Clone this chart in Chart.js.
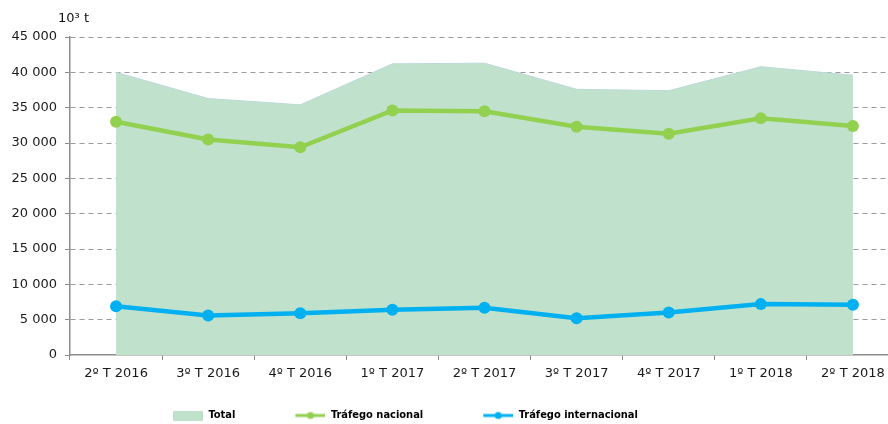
<!DOCTYPE html>
<html>
<head>
<meta charset="utf-8">
<script src="https://cdn.jsdelivr.net/npm/chart.js@4.4.1/dist/chart.umd.min.js"></script>
<style>
    body { margin: 0; overflow: hidden; background: #fff; }
    #wrap { width: 905px; height: 424px; }
</style>
</head>
<body>
<div id="wrap"><canvas id="freightChart"></canvas></div>
<script>
const quarters = ['2º T 2016', '3º T 2016', '4º T 2016', '1º T 2017', '2º T 2017', '3º T 2017', '4º T 2017', '1º T 2018', '2º T 2018'];
const totalValues = [40000, 36300, 35400, 41200, 41300, 37600, 37400, 40800, 39600];
const nationalValues = [33000, 30500, 29400, 34600, 34500, 32300, 31300, 33500, 32400];
const internationalValues = [6900, 5600, 5900, 6400, 6700, 5200, 6000, 7200, 7100];
const Y_MAX = 45000;
const Y_STEP = 5000;

const TOTAL_COLOR = '#C0E2CC';
const NATIONAL_COLOR = '#92D050';
const INTERNATIONAL_COLOR = '#00B0F0';
const AXIS_COLOR = '#8c8c8c';
const TICK_FONT = {family: '"DejaVu Sans", sans-serif', size: 13};

// legend symbols: transparent lead-in gives the wide gaps between items
const LEAD = 50;
function legendSymbol(kind, color) {
    const c = document.createElement('canvas');
    c.width = LEAD + 30;
    c.height = 10;
    const ctx = c.getContext('2d');
    ctx.fillStyle = color;
    if (kind === 'box') {
        ctx.fillRect(LEAD, 0, 30, 10);
    } else {
        ctx.strokeStyle = color;
        ctx.lineWidth = 3;
        ctx.beginPath();
        ctx.moveTo(LEAD, 5);
        ctx.lineTo(LEAD + 30, 5);
        ctx.stroke();
        ctx.beginPath();
        ctx.arc(LEAD + 15, 5, 3.5, 0, Math.PI * 2);
        ctx.fill();
    }
    return c;
}

function spaced(v) {
    return String(v).replace(/\B(?=(\d{3})+(?!\d))/g, ' ');
}

const unitLabel = {
    id: 'unitLabel',
    afterDraw(chart) {
        const {ctx, chartArea} = chart;
        ctx.save();
        ctx.font = '13px "DejaVu Sans"';
        ctx.fillStyle = '#111';
        ctx.textBaseline = 'middle';
        ctx.fillText('10³ t', chartArea.left - 12, chartArea.top - 18);
        ctx.restore();
    }
};

// legend sits lower and further left than chart.js would put it
const legendPlace = {
    id: 'legendPlace',
    beforeInit(chart) {
        const fitValue = chart.legend.fit;
        chart.legend.fit = function fit() {
            fitValue.bind(chart.legend)();
            return this.height -= 7;
        };
    },
    afterLayout(chart) {
        const lg = chart.legend;
        lg.left = 113;
        lg.right = lg.left + lg.width;
    }
};

const data = {
    labels: quarters,
    datasets: [
        {
            label: 'Total',
            data: totalValues,
            fill: 'origin',
            backgroundColor: TOTAL_COLOR,
            borderColor: '#bcd8da',
            borderWidth: 1,
            pointRadius: 0,
            pointHoverRadius: 0,
            tension: 0,
            order: 3,
        },
        {
            label: 'Tráfego nacional',
            data: nationalValues,
            borderColor: NATIONAL_COLOR,
            backgroundColor: NATIONAL_COLOR,
            borderWidth: 4.5,
            pointRadius: 6,
            pointHoverRadius: 6,
            pointBorderWidth: 0,
            tension: 0,
            order: 2,
        },
        {
            label: 'Tráfego internacional',
            data: internationalValues,
            borderColor: INTERNATIONAL_COLOR,
            backgroundColor: INTERNATIONAL_COLOR,
            borderWidth: 4.5,
            pointRadius: 6,
            pointHoverRadius: 6,
            pointBorderWidth: 0,
            tension: 0,
            order: 1,
        }
    ]
};

const symbols = [
    legendSymbol('box', TOTAL_COLOR),
    legendSymbol('line', NATIONAL_COLOR),
    legendSymbol('line', INTERNATIONAL_COLOR),
];

const config = {
    type: 'line',
    data: data,
    plugins: [unitLabel, legendPlace],
    options: {
        responsive: true,
        maintainAspectRatio: false,
        animation: false,
        layout: {padding: {top: 37, right: 0, bottom: 0, left: 0}},
        plugins: {
            tooltip: {enabled: false},
            legend: {
                position: 'bottom',
                align: 'start',
                labels: {
                    usePointStyle: true,
                    pointStyleWidth: LEAD + 30,
                    padding: 10,
                    color: '#000',
                    font: {family: '"DejaVu Sans Condensed", "Liberation Sans", sans-serif', size: 11, weight: 'bold'},
                    generateLabels(chart) {
                        return chart.data.datasets.map((ds, i) => ({
                            text: ds.label,
                            pointStyle: symbols[i],
                            fillStyle: 'transparent',
                            strokeStyle: 'transparent',
                            lineWidth: 0,
                            hidden: false,
                            datasetIndex: i,
                        }));
                    },
                },
            },
        },
        scales: {
            x: {
                offset: true,
                grid: {offset: true, drawOnChartArea: false, color: AXIS_COLOR, tickLength: 5},
                border: {color: AXIS_COLOR, width: 1.5},
                ticks: {color: '#1a1a1a', font: TICK_FONT, padding: 6, maxRotation: 0, autoSkip: false},
                afterFit(scale) { scale.height = 45; },
            },
            y: {
                min: 0,
                max: Y_MAX,
                grid: {
                    color: (ctx) => (ctx.tick && ctx.tick.value === 0) ? 'rgba(0,0,0,0)' : '#9a9a9a',
                    tickColor: AXIS_COLOR,
                    tickLength: 5,
                    tickBorderDash: [],
                },
                border: {color: AXIS_COLOR, width: 1.5, dash: [5, 4]},
                ticks: {
                    stepSize: Y_STEP,
                    padding: 8,
                    color: '#1a1a1a',
                    font: TICK_FONT,
                    callback: (v) => spaced(v),
                },
                afterFit(scale) { scale.width = 70; },
            },
        },
    }
};

const freightChart = new Chart(
    document.getElementById('freightChart'),
    config,
);
</script>
</body>
</html>
